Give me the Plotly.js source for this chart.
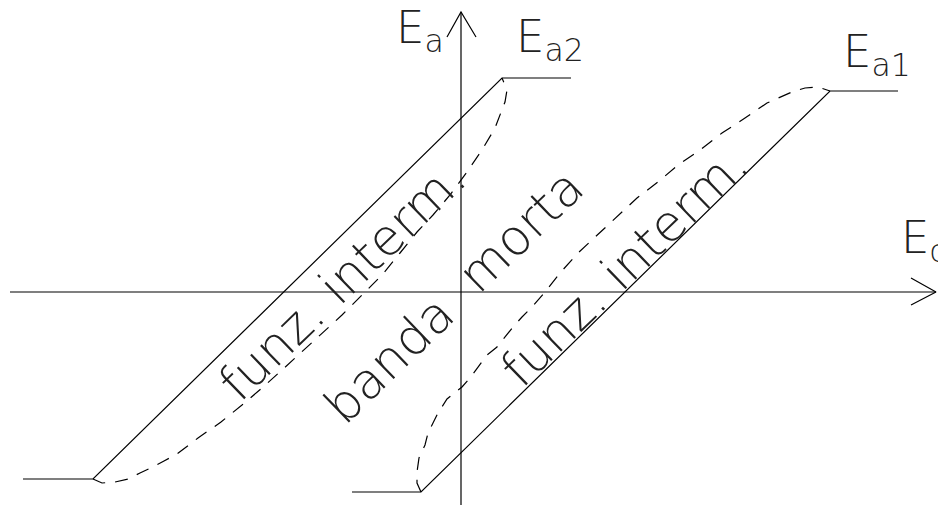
<!DOCTYPE html>
<html>
<head>
<meta charset="utf-8">
<script src="https://cdn.plot.ly/plotly-3.0.1.min.js"></script>
<style>
  html, body { margin: 0; padding: 0; background: #fff; }
  #chart { width: 938px; height: 505px; }
</style>
</head>
<body>
<div id="chart"></div>
<script>
// axes (origin at crossing)
let axisX = [-451, 475];
let axisY = [-213, 280];
let arrowXx = [450, 475, 450];
let arrowXy = [14, 0, -13];
let arrowYx = [-14, 0, 15];
let arrowYy = [255, 280, 255];

// characteristic Ea2 (solid, left)
let ea2x = [-438, -368, 41, 110];
let ea2y = [-187, -187, 214, 214];
// characteristic Ea1 (solid, right)
let ea1x = [-109, -40, 369, 437];
let ea1y = [-200, -200, 201, 201];

// dashed curves
let curve2x = [-368, -359, -346, -333, -321, -308, -297, -284, -263, -240, -219, -199, -179, -159, -139, -119, -99, -79, -61, -44, -28, -11, 6, 21, 34, 44, 46, 41];
let curve2y = [-187, -191, -190, -187, -181, -175, -169, -162, -146, -130, -113, -96, -78, -60, -41, -23, -3, 17, 39, 60, 77, 97, 120, 142, 164, 190, 202, 214];
let curve1x = [-40, -44, -44, -42, -36, -33, -28, -23, -14, 1, 9, 17, 26, 36, 44, 52, 61, 71, 84, 99, 117, 136, 156, 176, 197, 217, 239, 261, 284, 306, 331, 344, 357, 369];
let curve1y = [-200, -191, -180, -166, -153, -141, -131, -121, -107, -95, -86, -75, -63, -55, -45, -35, -25, -15, 0, 19, 39, 57, 75, 94, 110, 127, 142, 159, 174, 189, 200, 204, 205, 201];

// labels
let labelText = ["E<sub>a</sub>", "E<sub>a2</sub>", "E<sub>a1</sub>", "E<sub>c</sub>"];
let labelX = [-67.5, 52.5, 379.5, 437.5];
let labelY = [262, 253, 238, 52];

let bandText = ["funz. interm.", "banda", "morta", "funz. interm."];
let bandX = [-119, -72, 60, 163];
let bandY = [11, -68, 61, 25];

let ink = "#000";
let textInk = "#222";
let fontName = "DejaVu Sans";

function lineTrace(x, y, dash) {
    return {
        x: x,
        y: y,
        mode: 'lines',
        type: 'scatter',
        hoverinfo: 'skip',
        showlegend: false,
        line: {
            color: ink,
            width: 1.2,
            dash: dash
        }
    };
}

function makeAnnotations() {
    let ann = [];
    for (let i = 0; i < labelText.length; i++) {
        ann.push({
            x: labelX[i],
            y: labelY[i],
            text: labelText[i],
            showarrow: false,
            xanchor: 'left',
            yanchor: 'middle',
            font: { family: fontName, size: 45, color: textInk, weight: 200 }
        });
    }
    for (let i = 0; i < bandText.length; i++) {
        ann.push({
            x: bandX[i],
            y: bandY[i],
            text: bandText[i],
            showarrow: false,
            textangle: -44,
            xanchor: 'center',
            yanchor: 'middle',
            font: { family: fontName, size: 50, color: textInk, weight: 200 }
        });
    }
    return ann;
}

function drawChart() {
    let data = [
        lineTrace(axisX, [0, 0], 'solid'),
        lineTrace([0, 0], axisY, 'solid'),
        lineTrace(arrowXx, arrowXy, 'solid'),
        lineTrace(arrowYx, arrowYy, 'solid'),
        lineTrace(ea2x, ea2y, 'solid'),
        lineTrace(ea1x, ea1y, 'solid'),
        lineTrace(curve2x, curve2y, '13px,10px'),
        lineTrace(curve1x, curve1y, '13px,10px')
    ];
    let layout = {
        width: 938,
        height: 505,
        margin: { l: 0, r: 0, t: 0, b: 0, pad: 0 },
        paper_bgcolor: "#fff",
        plot_bgcolor: "#fff",
        xaxis: { range: [-461, 477], visible: false, fixedrange: true },
        yaxis: { range: [-213, 292], visible: false, fixedrange: true },
        annotations: makeAnnotations(),
        showlegend: false
    };
    Plotly.newPlot('chart', data, layout, { displayModeBar: false, staticPlot: true });
}

drawChart();
</script>
</body>
</html>
